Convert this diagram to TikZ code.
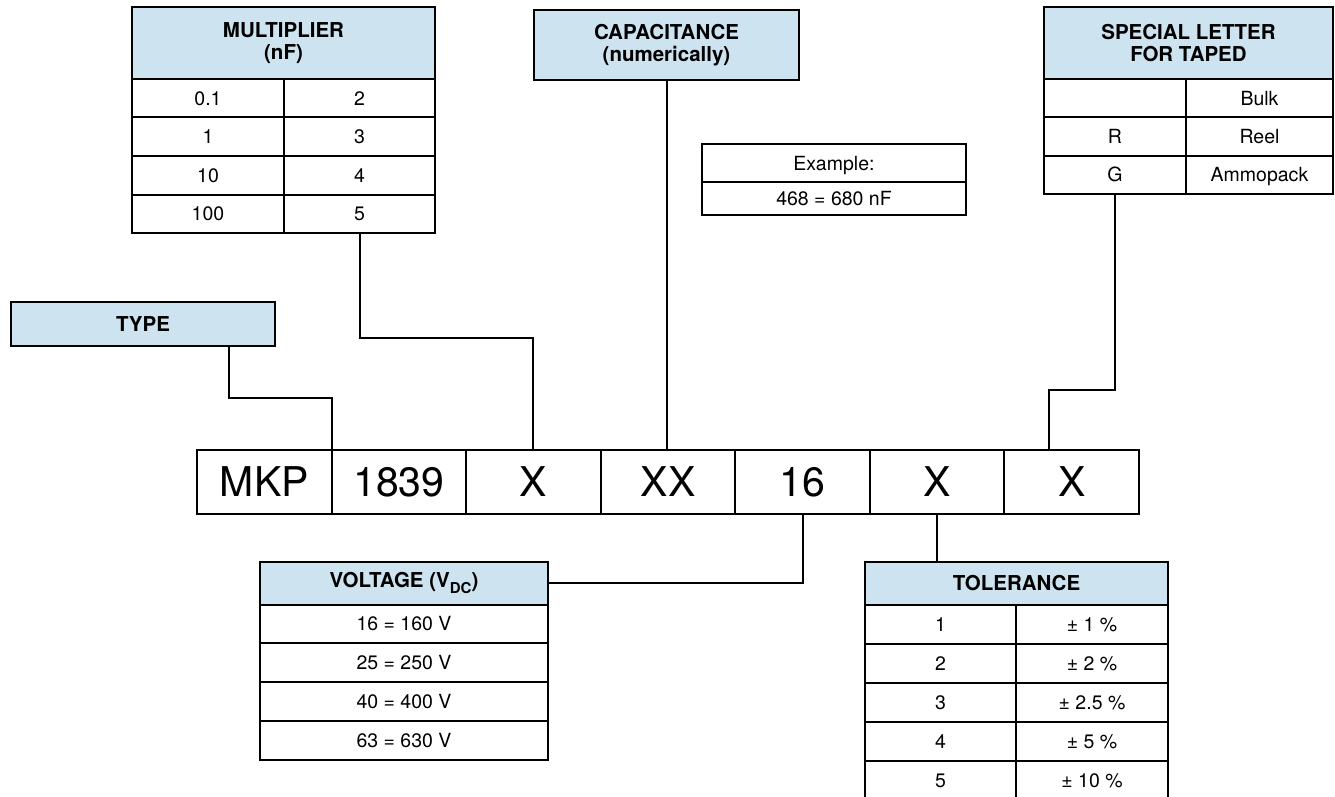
\documentclass[tikz,border=0pt]{standalone}
\usepackage{fontspec}
\setmainfont{TeX Gyre Heros}
\usetikzlibrary{calc,positioning}
\definecolor{hdrblue}{RGB}{205,227,240}
\newcommand{\hdrfont}{\fontsize{20.5}{22}\selectfont\bfseries}
\newcommand{\cellfont}{\fontsize{19.5}{22}\selectfont}
\newcommand{\rowfont}{\fontsize{41}{45}\selectfont}
\tikzset{
  hdr/.style={draw, fill=hdrblue, line width=2pt, outer sep=0pt, inner sep=0pt, align=center, font=\hdrfont},
  cell/.style={draw, line width=2pt, outer sep=0pt, inner sep=0pt, font=\cellfont, text height=14pt, text depth=0pt},
  pncell/.style={draw, line width=2pt, outer sep=0pt, inner sep=0pt, minimum width=134.57pt, minimum height=64pt, font=\rowfont},
  wire/.style={line width=2pt},
}

\begin{document}
\begin{tikzpicture}[x=1pt, y=-1pt]
  \useasboundingbox (0,0) rectangle (1335,797);
  \clip (0,0) rectangle (1335,797);

  %% part number row
  \foreach \t [count=\i] in {MKP,1839,X,XX,16,X,X}
    \node[pncell] (c\i) at ({197+134.57*(\i-0.5)},482) {\t};

  %% TYPE
  \node[hdr, minimum width=264pt, minimum height=44pt] (typebox) at (143,324) {TYPE};
  \coordinate (typeout) at (229,346);

  %% MULTIPLIER
  \node[hdr, minimum width=303pt, minimum height=72pt] (mulhead) at (283.5,43) {MULTIPLIER\\(nF)};
  \foreach \a/\b [count=\i] in {0.1/2, 1/3, 10/4, 100/5} {
    \node[cell, minimum width=152pt, minimum height=38.5pt] (mulL\i) at (208,{79+38.5*(\i-0.5)}) {\a};
    \node[cell, minimum width=151pt, minimum height=38.5pt] (mulR\i) at (359.5,{79+38.5*(\i-0.5)}) {\b};
  }

  %% CAPACITANCE
  \node[hdr, minimum width=265pt, minimum height=70pt] (caphead) at (666.5,45) {CAPACITANCE\\(numerically)};
  \node[cell, minimum width=264pt, minimum height=37.5pt] (exa) at (834,163) {Example:};
  \node[cell, minimum width=264pt, minimum height=33pt, below=0pt of exa] (exb) {468 = 680 nF};

  %% SPECIAL LETTER
  \node[hdr, minimum width=289pt, minimum height=72pt] (sphead) at (1188.5,43) {SPECIAL LETTER\\FOR TAPED};
  \foreach \a/\b [count=\i] in {{}/Bulk, R/Reel, G/Ammopack} {
    \node[cell, minimum width=142pt, minimum height=38.33pt] (spL\i) at (1115,{79+38.33*(\i-0.5)}) {\a};
    \node[cell, minimum width=147pt, minimum height=38.33pt] (spR\i) at (1259.5,{79+38.33*(\i-0.5)}) {\b};
  }
  \coordinate (spin) at (1049,450);

  %% VOLTAGE
  \node[hdr, minimum width=288pt, minimum height=42.5pt] (volhead) at (404,583.25) {VOLTAGE (V\raisebox{-0.3em}{\fontsize{15}{15}\selectfont DC})};
  \foreach \v [count=\i] in {16 = 160 V, 25 = 250 V, 40 = 400 V, 63 = 630 V}
    \node[cell, minimum width=288pt, minimum height=38.75pt] (vol\i) at (404,{604.5+38.75*(\i-0.5)}) {\v};

  %% TOLERANCE
  \node[hdr, minimum width=303pt, minimum height=43pt] (tolhead) at (1016.5,583.5) {TOLERANCE};
  \foreach \a/\b [count=\i] in {1/{± 1 \%}, 2/{± 2 \%}, 3/{± 2.5 \%}, 4/{± 5 \%}, 5/{± 10 \%}} {
    \node[cell, minimum width=151pt, minimum height=39pt] (tolL\i) at (940.5,{605+39*(\i-0.5)}) {\a};
    \node[cell, minimum width=152pt, minimum height=39pt] (tolR\i) at (1092,{605+39*(\i-0.5)}) {\b};
  }

  %% connectors
  \draw[wire] (typeout) -- ++(0,52) -| (c1.north east);
  \draw[wire] (mulR4.south) -- ++(0,105) -| (c3.north);
  \draw[wire] (caphead.south) -- (caphead.south |- c4.north);
  \draw[wire] (spL3.south) -- ++(0,196) -| (spin);
  \draw[wire] (volhead.east) -| (c5.south);
  \draw[wire] (c6.south) -- (c6.south |- tolhead.north);
\end{tikzpicture}
\end{document}
